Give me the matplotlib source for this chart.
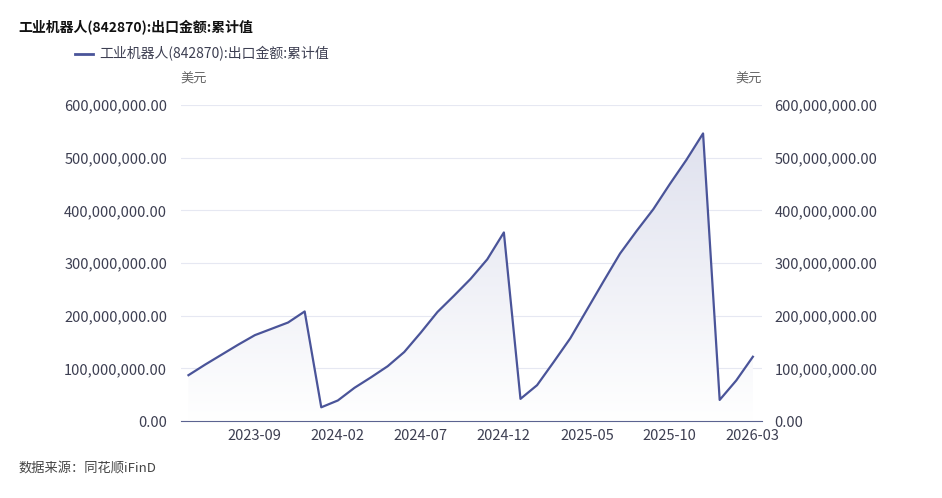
import matplotlib.pyplot as plt
from matplotlib.ticker import FuncFormatter
from matplotlib.colors import LinearSegmentedColormap
import numpy as np

plt.rcParams['font.family'] = ['Noto Sans CJK SC', 'DejaVu Sans']

# Monthly cumulative export value, USD (2023-05 .. 2026-03)
months = ['2023-05', '2023-06', '2023-07', '2023-08', '2023-09', '2023-10', '2023-11', '2023-12',
          '2024-01', '2024-02', '2024-03', '2024-04', '2024-05', '2024-06', '2024-07', '2024-08',
          '2024-09', '2024-10', '2024-11', '2024-12',
          '2025-01', '2025-02', '2025-03', '2025-04', '2025-05', '2025-06', '2025-07', '2025-08',
          '2025-09', '2025-10', '2025-11', '2025-12',
          '2026-01', '2026-02', '2026-03']
values = [87e6, 107e6, 126e6, 145e6, 163e6, 175e6, 187e6, 208e6,
          26e6, 39e6, 63e6, 83e6, 104e6, 131e6, 168e6, 207e6,
          238e6, 270e6, 307e6, 358e6,
          42e6, 68e6, 112e6, 157e6, 211e6, 265e6, 318e6, 361e6,
          402e6, 450e6, 496e6, 546e6,
          40e6, 77e6, 122e6]
tick_labels = ['2023-09', '2024-02', '2024-07', '2024-12', '2025-05', '2025-10', '2026-03']

title = '工业机器人(842870):出口金额:累计值'
line_color = '#4a5499'
text_color = '#3d3f52'

x = np.arange(len(months))
y = np.array(values)

fig = plt.figure(figsize=(9.42, 4.98), dpi=100)
ax = fig.add_axes([181/942, 77/498, 581/942, 316/498])

# gradient fill under the line
grad = np.linspace(0, 1, 256).reshape(-1, 1)
cmap = LinearSegmentedColormap.from_list('g', ['#ffffff', '#dfe1ee'])
im = ax.imshow(grad, aspect='auto', cmap=cmap, origin='lower',
               extent=[x[0], x[-1], 0, y.max()], zorder=1)
poly = ax.fill_between(x, y, 0, color='none')
im.set_clip_path(poly.get_paths()[0], transform=ax.transData)
ax.plot(x, y, color=line_color, lw=1.6, zorder=3)

ax.set_xlim(-0.45, len(months) - 1 + 0.55)
ax.set_ylim(0, 600e6)
yticks = np.arange(0, 600e6 + 1, 100e6)
ax.set_yticks(yticks)
fmt = FuncFormatter(lambda v, p: f'{v:,.2f}')
ax.yaxis.set_major_formatter(fmt)
ax.set_xticks([months.index(m) for m in tick_labels])
ax.set_xticklabels(tick_labels)
ax.grid(axis='y', color='#e6e8f2', lw=0.8)
ax.set_axisbelow(True)
for s in ['top', 'left', 'right']:
    ax.spines[s].set_visible(False)
ax.spines['bottom'].set_color('#5b6390')
ax.tick_params(axis='x', length=0, pad=6, labelsize=10.5, colors=text_color)
ax.tick_params(axis='y', length=0, pad=10, labelsize=10.5, colors=text_color)

ax2 = ax.twinx()
ax2.set_ylim(0, 600e6)
ax2.set_yticks(yticks)
ax2.yaxis.set_major_formatter(fmt)
for s in ['top', 'left', 'right', 'bottom']:
    ax2.spines[s].set_visible(False)
ax2.tick_params(axis='y', length=0, pad=9, labelsize=10.5, colors=text_color)

fig.text(18/942, 1 - 27/498, title, fontsize=10, fontweight='bold', color='#111111', va='center')
fig.add_artist(plt.Line2D([75/942, 93/942], [1 - 54/498] * 2, color=line_color, lw=2))
fig.text(99/942, 1 - 54/498, title, fontsize=10, color=text_color, va='center')
fig.text(180/942, 1 - 79/498, '美元', fontsize=9.5, color='#666666', va='center')
fig.text(762/942, 1 - 79/498, '美元', fontsize=9.5, color='#666666', va='center', ha='right')
fig.text(18/942, 1 - 468/498, '数据来源：同花顺iFinD', fontsize=9.5, color='#444444', va='center')

fig.savefig('out.png', dpi=100)
